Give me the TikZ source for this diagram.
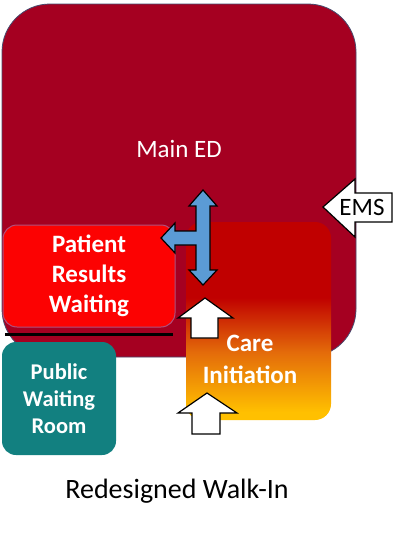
\documentclass[tikz,border=0pt]{standalone}
\usepackage{fontspec}
\setmainfont{Carlito}
\usetikzlibrary{positioning}
\definecolor{edred}{RGB}{165,0,33}
\definecolor{ededge}{RGB}{70,75,110}
\definecolor{prwred}{RGB}{252,2,2}
\definecolor{prwedge}{RGB}{175,80,125}
\definecolor{pwrteal}{RGB}{18,128,128}
\definecolor{cired}{RGB}{192,0,0}
\definecolor{ciorange}{RGB}{228,108,10}
\definecolor{ciyellow}{RGB}{255,192,0}
\definecolor{flowblue}{RGB}{91,155,213}
\pgfdeclareverticalshading{careshade}{100bp}{color(0bp)=(ciyellow); color(27bp)=(ciyellow); color(42bp)=(ciorange); color(56bp)=(cired); color(100bp)=(cired)}
\tikzset{
  room/.style={
    draw,
    rectangle,
    rounded corners=14pt,
    inner sep=0pt,
    outer sep=0pt,
    anchor=north west,
    align=center,
    text=white,
  },
  roomtext/.style={
    align=center,
    text=white,
    inner sep=0pt
  },
  bigarrow/.style={
    draw=black,
    line width=1.2pt,
    line join=miter,
    fill=white
  },
  flowarrow/.style={
    bigarrow,
    fill=flowblue
  }
}
\begin{document}
\begin{tikzpicture}[x=1pt,y=-1pt]
  \useasboundingbox (0,0) rectangle (400,538);

  \node[room, draw=ededge, line width=0.8pt, fill=edred, rounded corners=48pt, minimum width=354pt, minimum height=353pt] (ed) at (2,4) {};
  \node[roomtext, font=\fontsize{25}{30}\selectfont] (edlabel) at (179,148.5) {Main ED};

  \node[room, draw=prwedge, line width=1pt, fill=prwred, minimum width=172pt, minimum height=102pt, font=\bfseries\fontsize{25}{30}\selectfont] (prw) at (3,225) {Patient\\Results\\Waiting};
  \node[room, draw=none, fill=pwrteal, minimum width=114pt, minimum height=113pt, font=\bfseries\fontsize{22.5}{27}\selectfont] (pwr) at (2,342) {Public\\Waiting\\Room};
  \node[room, draw=none, shading=careshade, rounded corners=16pt, minimum width=145pt, minimum height=198pt] (ci) at (186,222) {};
  \node[roomtext, font=\bfseries\fontsize{25}{32}\selectfont] (cilabel) at (250,359) {Care\\Initiation};

  \draw[line width=3pt] (5,334) -- (173,334);

  \draw[flowarrow] (203,190) -- (217,206) -- (210,206) -- (210,270) -- (217,270) -- (203,285)
    -- (189,270) -- (196,270) -- (196,245) -- (175,245) -- (175,253) -- (161,238)
    -- (175,223) -- (175,231) -- (196,231) -- (196,206) -- (189,206) -- cycle;

  \draw[bigarrow] (205,298) -- (233,318) -- (218,318) -- (218,338) -- (191,338) -- (191,318) -- (178,318) -- cycle;
  \draw[bigarrow] (207,393) -- (237,413) -- (220,413) -- (220,434) -- (192,434) -- (192,413) -- (178,413) -- cycle;

  \draw[bigarrow] (323,207) -- (355,179) -- (355,193) -- (392,193) -- (392,222) -- (355,222) -- (355,237) -- cycle;
  \node[inner sep=0pt, font=\fontsize{25}{25}\selectfont] (ems) at (362,207.5) {EMS};

  \node[anchor=base, inner sep=0pt, font=\fontsize{28}{28}\selectfont] (title) at (177,498) {Redesigned Walk-In};
\end{tikzpicture}
\end{document}
